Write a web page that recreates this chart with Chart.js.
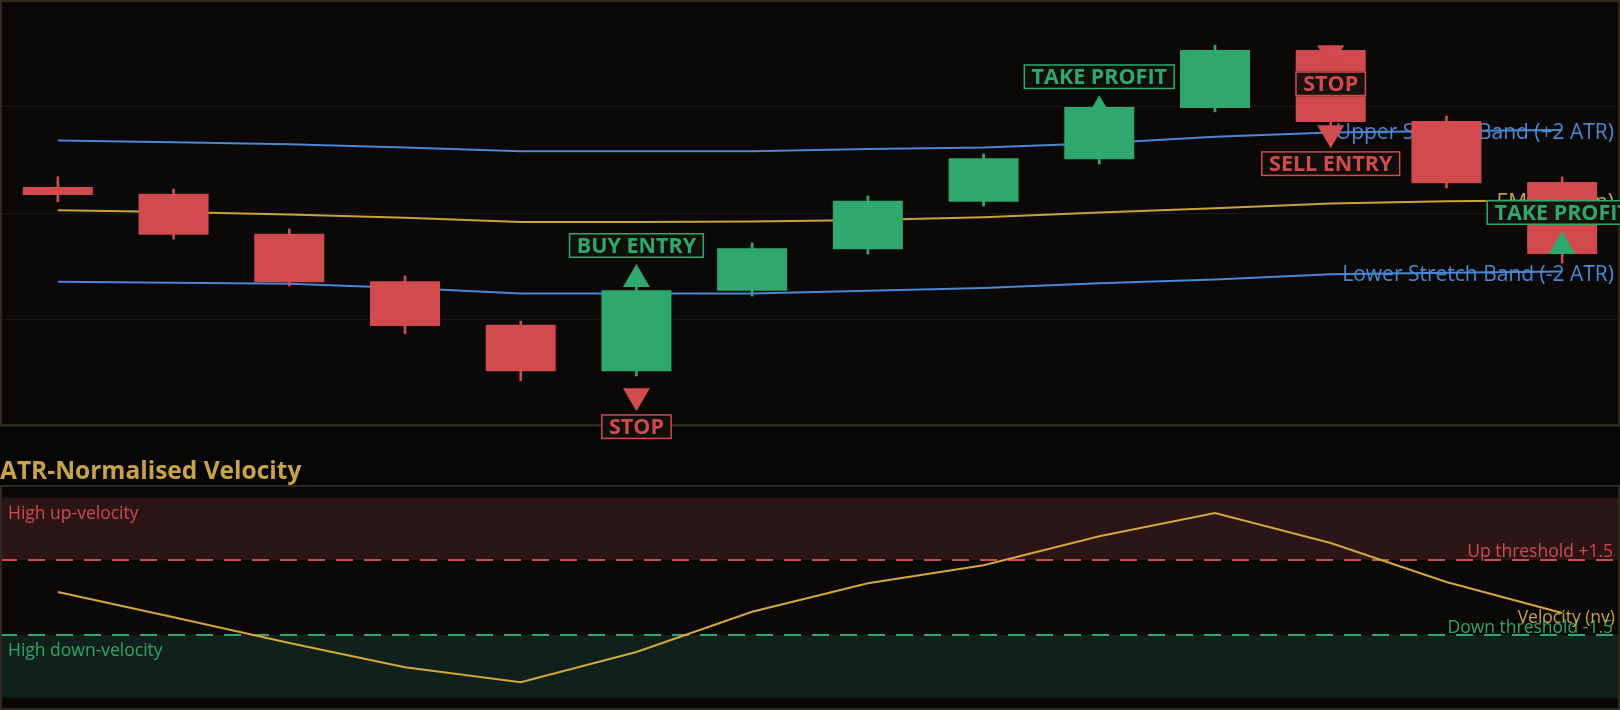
<!DOCTYPE html>
<html>
<head>
<meta charset="utf-8">
<title>ATR Stretch Bands</title>
<script src="https://cdn.jsdelivr.net/npm/chart.js@4.4.1/dist/chart.umd.min.js"></script>
<style>
  html, body { margin: 0; padding: 0; background: #060605; }
  body { width: 1620px; height: 710px; position: relative; overflow: hidden; font-family: "Open Sans", sans-serif; }
  #price { position: absolute; left: 0; top: 0; z-index: 2; }
  #title { position: absolute; left: 0; top: 453px; color: #c9a24a; font-weight: 700; font-size: 24.5px; line-height: normal; z-index: 1; }
  #vel { position: absolute; left: 0; top: 485px; }
</style>
</head>
<body>
<canvas id="price" width="1620" height="445"></canvas>
<div id="title">ATR-Normalised Velocity</div>
<canvas id="vel" width="1620" height="225"></canvas>

<script>
/* Data */
const categories = ['1', '2', '3', '4', '5', '6', '7', '8', '9', '10', '11', '12', '13', '14'];

const openPrices  = [104.49, 104.36, 103.61, 102.72, 101.90, 101.03, 102.54, 103.32, 104.21, 105.01, 105.97, 107.06, 105.73, 104.58];
const closePrices = [104.34, 103.59, 102.70, 101.88, 101.03, 102.55, 103.34, 104.23, 105.03, 105.99, 107.06, 105.71, 104.56, 103.23];
const highPrices  = [104.68, 104.45, 103.70, 102.82, 101.97, 102.61, 103.44, 104.32, 105.11, 106.07, 107.15, 107.14, 105.82, 104.68];
const lowPrices   = [104.21, 103.51, 102.63, 101.73, 100.85, 100.94, 102.44, 103.23, 104.13, 104.92, 105.90, 105.65, 104.47, 103.06];

const upperBand = [105.36, 105.33, 105.29, 105.23, 105.16, 105.16, 105.16, 105.20, 105.23, 105.31, 105.43, 105.51, 105.54, 105.56];
const emaValues = [104.05, 104.02, 103.97, 103.91, 103.83, 103.83, 103.84, 103.87, 103.92, 104.01, 104.09, 104.18, 104.22, 104.24];
const lowerBand = [102.71, 102.69, 102.67, 102.59, 102.49, 102.49, 102.49, 102.54, 102.59, 102.68, 102.75, 102.85, 102.88, 102.90];

// signal markers: bar index, price level of the arrow base, arrow direction, text
const markerIndex = [5, 5, 9, 11, 11, 13];
const markerPrice = [102.61, 100.71, 105.78, 107.15, 105.65, 103.23];
const markerDir   = ['up', 'down', 'up', 'down', 'down', 'up'];
const markerText  = ['BUY ENTRY', 'STOP', 'TAKE PROFIT', 'STOP', 'SELL ENTRY', 'TAKE PROFIT'];

const velocity = [0.22, -0.79, -1.82, -2.79, -3.39, -2.18, -0.57, 0.57, 1.29, 2.45, 3.38, 2.18, 0.62, -0.62];
const upThreshold = 1.5;
const downThreshold = -1.5;
const zoneLimit = 4;

/* Colours */
const RED = '#d04a4e';
const GREEN = '#2ea86c';
const BLUE = '#4a88d4';
const GOLD = '#c9a23e';
const PANEL = '#0a0908';
const FRAME = '#2f2a1d';

const candleColors = openPrices.map((o, i) => closePrices[i] >= o ? GREEN : RED);

function markerColor(text) {
  return (text === 'STOP' || text === 'SELL ENTRY') ? RED : GREEN;
}

/* Price panel plugin */
const pricePanel = {
  id: 'pricePanel',
  beforeDraw(chart) {
    const { ctx, chartArea: a } = chart;
    ctx.save();
    ctx.fillStyle = PANEL;
    ctx.fillRect(a.left, a.top, a.right - a.left, a.bottom - a.top);
    ctx.restore();
  },
  beforeDatasetDraw(chart, args) {
    // band labels sit above the lines but under the candles
    if (args.index !== 3) return;
    const { ctx } = chart;
    const y = chart.scales.y;
    const last = categories.length - 1;
    ctx.save();
    ctx.font = '21px "Open Sans"';
    ctx.textAlign = 'right';
    ctx.textBaseline = 'middle';
    [[upperBand, BLUE], [emaValues, GOLD], [lowerBand, BLUE]].forEach(([arr, col], k) => {
      ctx.fillStyle = col;
      ctx.fillText(chart.data.datasets[k].label, chart.width - 6, y.getPixelForValue(arr[last]) + 3);
    });
    ctx.restore();
  },
  afterDraw(chart) {
    const { ctx, chartArea: a } = chart;
    const x = chart.scales.x, y = chart.scales.y;
    ctx.save();
    ctx.strokeStyle = FRAME;
    ctx.lineWidth = 2;
    ctx.strokeRect(a.left + 1, a.top + 1, a.right - a.left - 2, a.bottom - a.top - 2);

    markerIndex.forEach((idx, i) => {
      const px = x.getPixelForValue(idx);
      const py = y.getPixelForValue(markerPrice[i]);
      const col = markerColor(markerText[i]);
      const up = markerDir[i] === 'up';
      const w = 27, h = 23;
      ctx.fillStyle = col;
      ctx.beginPath();
      ctx.moveTo(px, up ? py - h : py + h);
      ctx.lineTo(px + w / 2, py);
      ctx.lineTo(px - w / 2, py);
      ctx.closePath();
      ctx.fill();

      ctx.font = 'bold 21.5px "Open Sans"';
      const bw = ctx.measureText(markerText[i]).width + 16, bh = 25;
      const by = up ? py - h - 6 - bh : py + h + 3;
      ctx.fillStyle = 'rgba(18,16,12,0.96)';
      ctx.fillRect(px - bw / 2, by, bw, bh);
      ctx.strokeStyle = col;
      ctx.lineWidth = 1.5;
      ctx.strokeRect(px - bw / 2 + 0.75, by + 0.75, bw - 1.5, bh - 1.5);
      ctx.fillStyle = col;
      ctx.textAlign = 'center';
      ctx.textBaseline = 'middle';
      ctx.fillText(markerText[i], px, by + bh / 2 + 1);
    });
    ctx.restore();
  }
};

/* Price chart */
new Chart(document.getElementById('price'), {
  type: 'bar',
  data: {
    labels: categories,
    datasets: [
      { type: 'line', label: 'Upper Stretch Band (+2 ATR)', data: upperBand, borderColor: BLUE, borderWidth: 2, pointRadius: 0, tension: 0, order: 5 },
      { type: 'line', label: 'EMA (mean)', data: emaValues, borderColor: GOLD, borderWidth: 2, pointRadius: 0, tension: 0, order: 5 },
      { type: 'line', label: 'Lower Stretch Band (-2 ATR)', data: lowerBand, borderColor: BLUE, borderWidth: 2, pointRadius: 0, tension: 0, order: 5 },
      { label: 'Wick', data: lowPrices.map((l, i) => [l, highPrices[i]]), backgroundColor: candleColors, barThickness: 2, grouped: false, order: 2 },
      { label: 'Body', data: openPrices.map((o, i) => [o, closePrices[i]]), backgroundColor: candleColors, barPercentage: 0.605, categoryPercentage: 1, grouped: false, order: 1 }
    ]
  },
  options: {
    responsive: false,
    animation: false,
    layout: { padding: { left: 0, right: 0, top: 0, bottom: 19 } },
    plugins: { legend: { display: false }, tooltip: { enabled: false } },
    scales: {
      x: { display: false, offset: true },
      y: {
        min: 100, max: 108,
        ticks: { display: false, stepSize: 2 },
        grid: { color: '#1c1a17', drawTicks: false },
        border: { display: false }
      }
    }
  },
  plugins: [pricePanel]
});

/* Velocity panel plugin */
const velocityPanel = {
  id: 'velocityPanel',
  beforeDraw(chart) {
    const { ctx, chartArea: a } = chart;
    ctx.save();
    ctx.fillStyle = PANEL;
    ctx.fillRect(a.left, a.top, a.right - a.left, a.bottom - a.top);
    ctx.restore();
  },
  beforeDatasetsDraw(chart) {
    const { ctx, chartArea: a } = chart;
    const y = chart.scales.y;
    const yUp = y.getPixelForValue(upThreshold), yDn = y.getPixelForValue(downThreshold);
    const yTop = y.getPixelForValue(zoneLimit), yBot = y.getPixelForValue(-zoneLimit);
    ctx.save();
    ctx.fillStyle = '#2c1517';
    ctx.fillRect(a.left, yTop, a.right - a.left, yUp - yTop);
    ctx.fillStyle = '#10201a';
    ctx.fillRect(a.left, yDn, a.right - a.left, yBot - yDn);

    ctx.lineWidth = 2;
    ctx.setLineDash([17, 11]);
    ctx.strokeStyle = RED;
    ctx.beginPath(); ctx.moveTo(a.left, yUp); ctx.lineTo(a.right, yUp); ctx.stroke();
    ctx.strokeStyle = GREEN;
    ctx.beginPath(); ctx.moveTo(a.left, yDn); ctx.lineTo(a.right, yDn); ctx.stroke();
    ctx.setLineDash([]);

    ctx.font = '17.5px "Open Sans"';
    ctx.textBaseline = 'alphabetic';
    ctx.textAlign = 'left';
    ctx.fillStyle = RED;
    ctx.fillText('High up-velocity', 8, yTop + 21);
    ctx.fillStyle = GREEN;
    ctx.fillText('High down-velocity', 8, yDn + 21);
    ctx.textAlign = 'right';
    ctx.fillStyle = RED;
    ctx.fillText('Up threshold +' + upThreshold.toFixed(1), chart.width - 7, yUp - 3);
    ctx.fillStyle = GREEN;
    ctx.fillText('Down threshold ' + downThreshold.toFixed(1), chart.width - 7, yDn - 2);
    ctx.restore();
  },
  afterDraw(chart) {
    const { ctx, chartArea: a } = chart;
    const y = chart.scales.y;
    ctx.save();
    ctx.font = '17.5px "Open Sans"';
    ctx.textAlign = 'right';
    ctx.textBaseline = 'middle';
    ctx.fillStyle = GOLD;
    ctx.fillText('Velocity (nv)', chart.width - 5, y.getPixelForValue(velocity[velocity.length - 1]) + 5);
    ctx.strokeStyle = FRAME;
    ctx.lineWidth = 2;
    ctx.strokeRect(a.left + 1, a.top + 1, a.right - a.left - 2, a.bottom - a.top - 2);
    ctx.restore();
  }
};

/* Velocity chart */
new Chart(document.getElementById('vel'), {
  type: 'line',
  data: {
    labels: categories,
    datasets: [{ label: 'Velocity (nv)', data: velocity, borderColor: '#d4a83a', borderWidth: 2, pointRadius: 0, tension: 0 }]
  },
  options: {
    responsive: false,
    animation: false,
    layout: { padding: 0 },
    plugins: { legend: { display: false }, tooltip: { enabled: false } },
    scales: {
      x: { display: false, offset: true },
      y: { display: false, min: -4.5, max: 4.5 }
    }
  },
  plugins: [velocityPanel]
});
</script>
</body>
</html>
